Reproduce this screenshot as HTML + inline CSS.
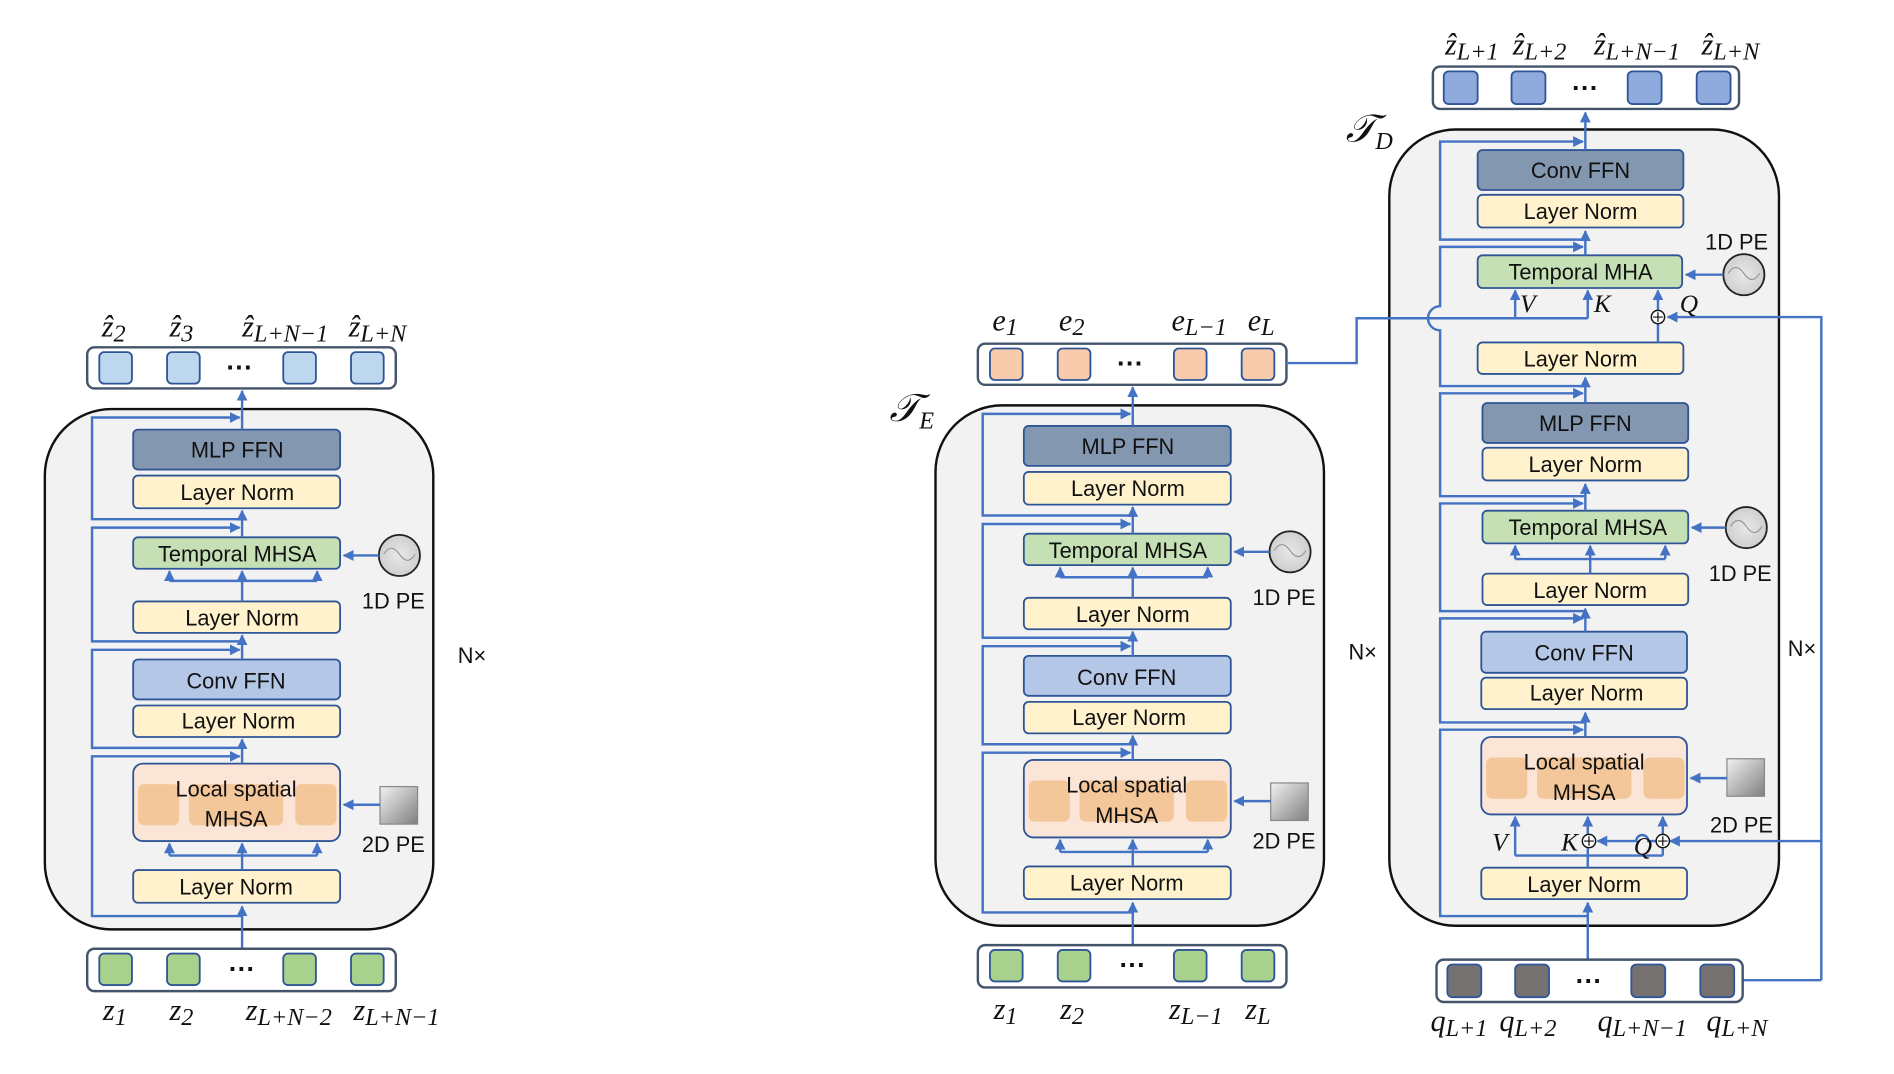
<!DOCTYPE html>
<html><head><meta charset="utf-8"><style>
html,body{margin:0;padding:0;background:#fff;}
svg{display:block}
.t{font-family:"Liberation Sans",sans-serif;font-size:18px;fill:#111;text-anchor:middle}
.m{font-family:"Liberation Serif",serif;font-style:italic;font-size:25px;fill:#111}
.s{font-size:20px}
.b{fill:none;stroke:#4472c4;stroke-width:2}
</style></head><body>
<svg width="1894" height="1074" viewBox="0 0 1565 887.5" xmlns="http://www.w3.org/2000/svg">
<defs>
<marker id="a" viewBox="0 0 10 10" refX="9" refY="5" markerWidth="4.5" markerHeight="4.5" orient="auto"><path d="M0,0L10,5L0,10z" fill="#4472c4"/></marker>
<linearGradient id="g" x1="0" y1="0" x2="1" y2="1"><stop offset="0" stop-color="#f2f2f2"/><stop offset="1" stop-color="#7f7f7f"/></linearGradient>
<radialGradient id="c"><stop offset="0" stop-color="#e8e8e8"/><stop offset="1" stop-color="#cfcfcf"/></radialGradient>
<g id="enc">
<rect x="37" y="338" width="321" height="430" rx="55" fill="#f2f2f2" stroke="#111" stroke-width="2"/>
<rect x="110" y="355" width="171" height="33" rx="4" fill="#8497b0" stroke="#2f5597" stroke-width="1.5"/>
<text class="t" x="196" y="378">MLP FFN</text>
<rect x="110" y="393" width="171" height="27" rx="4" fill="#fff2cc" stroke="#2f5597" stroke-width="1.5"/>
<text class="t" x="196" y="413">Layer Norm</text>
<rect x="110" y="444" width="171" height="26" rx="4" fill="#c5e0b4" stroke="#2f5597" stroke-width="1.5"/>
<text class="t" x="196" y="464">Temporal MHSA</text>
<rect x="110" y="497" width="171" height="26" rx="4" fill="#fff2cc" stroke="#2f5597" stroke-width="1.5"/>
<text class="t" x="200" y="517">Layer Norm</text>
<rect x="110" y="545" width="171" height="33" rx="4" fill="#b4c7e7" stroke="#2f5597" stroke-width="1.5"/>
<text class="t" x="195" y="569">Conv FFN</text>
<rect x="110" y="583" width="171" height="26" rx="4" fill="#fff2cc" stroke="#2f5597" stroke-width="1.5"/>
<text class="t" x="197" y="602">Layer Norm</text>
<rect x="110" y="631" width="171" height="64" rx="8" fill="#fbe5d6" stroke="#2f5597" stroke-width="1.5"/>
<rect x="114" y="648" width="34" height="34" rx="5" fill="#f4c79a"/>
<rect x="156" y="648" width="78" height="34" rx="5" fill="#f4c79a"/>
<rect x="244" y="648" width="34" height="34" rx="5" fill="#f4c79a"/>
<text class="t" x="195" y="658">Local spatial</text>
<text class="t" x="195" y="683">MHSA</text>
<rect x="110" y="719" width="171" height="27" rx="4" fill="#fff2cc" stroke="#2f5597" stroke-width="1.5"/>
<text class="t" x="195" y="739">Layer Norm</text>
<circle cx="330" cy="459" r="17" fill="url(#c)" stroke="#222" stroke-width="1.5"/>
<path d="M317,458 q6,-10 13,0 t13,0" fill="none" stroke="#999" stroke-width="1"/>
<text class="t" x="325" y="503">1D PE</text>
<rect x="314" y="650" width="31" height="31" fill="url(#g)" stroke="#888"/>
<text class="t" x="325" y="704">2D PE</text>
<path class="b" d="M313,459H284" marker-end="url(#a)"/>
<path class="b" d="M314,665H284" marker-end="url(#a)"/>
<path class="b" d="M200,784V749" marker-end="url(#a)"/>
<path class="b" d="M200,719V707M140,707H262"/>
<path class="b" d="M140,707V697" marker-end="url(#a)"/>
<path class="b" d="M200,707V697" marker-end="url(#a)"/>
<path class="b" d="M262,707V697" marker-end="url(#a)"/>
<path class="b" d="M200,631V611" marker-end="url(#a)"/>
<path class="b" d="M200,545V525" marker-end="url(#a)"/>
<path class="b" d="M200,497V480M140,480H262"/>
<path class="b" d="M140,480V472" marker-end="url(#a)"/>
<path class="b" d="M200,480V472" marker-end="url(#a)"/>
<path class="b" d="M262,480V472" marker-end="url(#a)"/>
<path class="b" d="M200,444V422" marker-end="url(#a)"/>
<path class="b" d="M200,355V323" marker-end="url(#a)"/>
<path class="b" d="M200,757H76V625H198" marker-end="url(#a)"/>
<path class="b" d="M200,618H76V537H198" marker-end="url(#a)"/>
<path class="b" d="M200,530H76V436H198" marker-end="url(#a)"/>
<path class="b" d="M200,429H76V345H198" marker-end="url(#a)"/>
<text class="t" x="390" y="548">N×</text>
<rect x="72" y="784" width="255" height="35" rx="6" fill="#fff" stroke="#44546a" stroke-width="2"/>
<g fill="#a9d18e" stroke="#2f5597" stroke-width="1.5">
<rect x="82" y="788" width="27" height="26" rx="4"/><rect x="138" y="788" width="27" height="26" rx="4"/><rect x="234" y="788" width="27" height="26" rx="4"/><rect x="290" y="788" width="27" height="26" rx="4"/></g>
<text x="200" y="808" class="t" style="font-size:22px;font-weight:bold">···</text>
<rect x="72" y="287" width="255" height="34" rx="6" fill="#fff" stroke="#44546a" stroke-width="2"/>
</g>
</defs>

<use href="#enc"/>
<g fill="#bdd7ee" stroke="#2f5597" stroke-width="1.5">
<rect x="82" y="291" width="27" height="26" rx="4"/><rect x="138" y="291" width="27" height="26" rx="4"/><rect x="234" y="291" width="27" height="26" rx="4"/><rect x="290" y="291" width="27" height="26" rx="4"/></g>
<text x="198" y="311" class="t" style="font-size:22px;font-weight:bold">···</text>
<text class="m" x="84" y="278">ẑ<tspan class="s" dy="4">2</tspan></text>
<text class="m" x="140" y="278">ẑ<tspan class="s" dy="4">3</tspan></text>
<text class="m" x="200" y="278">ẑ<tspan class="s" dy="4">L+N−1</tspan></text>
<text class="m" x="288" y="278">ẑ<tspan class="s" dy="4">L+N</tspan></text>
<text class="m" x="85" y="843">z<tspan class="s" dy="4">1</tspan></text>
<text class="m" x="140" y="843">z<tspan class="s" dy="4">2</tspan></text>
<text class="m" x="203" y="843">z<tspan class="s" dy="4">L+N−2</tspan></text>
<text class="m" x="292" y="843">z<tspan class="s" dy="4">L+N−1</tspan></text>

<g transform="translate(736,-3)">
<use href="#enc"/>
<g fill="#f8cbad" stroke="#2f5597" stroke-width="1.5">
<rect x="82" y="291" width="27" height="26" rx="4"/><rect x="138" y="291" width="27" height="26" rx="4"/><rect x="234" y="291" width="27" height="26" rx="4"/><rect x="290" y="291" width="27" height="26" rx="4"/></g>
<text x="198" y="311" class="t" style="font-size:22px;font-weight:bold">···</text>
<text class="m" x="84" y="276">e<tspan class="s" dy="4">1</tspan></text>
<text class="m" x="139" y="276">e<tspan class="s" dy="4">2</tspan></text>
<text class="m" x="232" y="276">e<tspan class="s" dy="4">L−1</tspan></text>
<text class="m" x="295" y="276">e<tspan class="s" dy="4">L</tspan></text>
<text class="m" x="85" y="845">z<tspan class="s" dy="4">1</tspan></text>
<text class="m" x="140" y="845">z<tspan class="s" dy="4">2</tspan></text>
<text class="m" x="230" y="845">z<tspan class="s" dy="4">L−1</tspan></text>
<text class="m" x="293" y="845">z<tspan class="s" dy="4">L</tspan></text>
</g>
<text class="m" x="735" y="348" style="font-size:32px">𝒯<tspan class="s" dy="6" style="font-size:20px">E</tspan></text>

<rect x="1148" y="107" width="322" height="658" rx="55" fill="#f2f2f2" stroke="#111" stroke-width="2"/>
<text class="m" x="1112" y="117" style="font-size:32px">𝒯<tspan class="s" dy="6" style="font-size:20px">D</tspan></text>
<rect x="1184" y="55" width="253" height="35" rx="6" fill="#fff" stroke="#44546a" stroke-width="2"/>
<g fill="#8faadc" stroke="#2f5597" stroke-width="1.5">
<rect x="1193" y="59" width="28" height="27" rx="4"/><rect x="1249" y="59" width="28" height="27" rx="4"/><rect x="1345" y="59" width="28" height="27" rx="4"/><rect x="1402" y="59" width="28" height="27" rx="4"/></g>
<text x="1310" y="80" class="t" style="font-size:22px;font-weight:bold">···</text>
<text class="m" x="1194" y="45">ẑ<tspan class="s" dy="4">L+1</tspan></text>
<text class="m" x="1250" y="45">ẑ<tspan class="s" dy="4">L+2</tspan></text>
<text class="m" x="1317" y="45">ẑ<tspan class="s" dy="4">L+N−1</tspan></text>
<text class="m" x="1406" y="45">ẑ<tspan class="s" dy="4">L+N</tspan></text>

<rect x="1221" y="124" width="170" height="33" rx="4" fill="#8497b0" stroke="#2f5597" stroke-width="1.5"/>
<text class="t" x="1306" y="147">Conv FFN</text>
<rect x="1221" y="161" width="170" height="27" rx="4" fill="#fff2cc" stroke="#2f5597" stroke-width="1.5"/>
<text class="t" x="1306" y="181">Layer Norm</text>
<rect x="1221" y="211" width="169" height="27" rx="4" fill="#c5e0b4" stroke="#2f5597" stroke-width="1.5"/>
<text class="t" x="1306" y="231">Temporal MHA</text>
<rect x="1221" y="283" width="170" height="26" rx="4" fill="#fff2cc" stroke="#2f5597" stroke-width="1.5"/>
<text class="t" x="1306" y="303">Layer Norm</text>
<rect x="1225" y="333" width="170" height="33" rx="4" fill="#8497b0" stroke="#2f5597" stroke-width="1.5"/>
<text class="t" x="1310" y="356">MLP FFN</text>
<rect x="1225" y="370" width="170" height="27" rx="4" fill="#fff2cc" stroke="#2f5597" stroke-width="1.5"/>
<text class="t" x="1310" y="390">Layer Norm</text>
<rect x="1225" y="422" width="170" height="27" rx="4" fill="#c5e0b4" stroke="#2f5597" stroke-width="1.5"/>
<text class="t" x="1312" y="442">Temporal MHSA</text>
<rect x="1225" y="474" width="170" height="26" rx="4" fill="#fff2cc" stroke="#2f5597" stroke-width="1.5"/>
<text class="t" x="1314" y="494">Layer Norm</text>
<rect x="1224" y="522" width="170" height="34" rx="4" fill="#b4c7e7" stroke="#2f5597" stroke-width="1.5"/>
<text class="t" x="1309" y="546">Conv FFN</text>
<rect x="1224" y="560" width="170" height="26" rx="4" fill="#fff2cc" stroke="#2f5597" stroke-width="1.5"/>
<text class="t" x="1311" y="579">Layer Norm</text>
<rect x="1224" y="609" width="170" height="64" rx="8" fill="#fbe5d6" stroke="#2f5597" stroke-width="1.5"/>
<rect x="1228" y="626" width="34" height="34" rx="5" fill="#f4c79a"/>
<rect x="1270" y="626" width="78" height="34" rx="5" fill="#f4c79a"/>
<rect x="1358" y="626" width="34" height="34" rx="5" fill="#f4c79a"/>
<text class="t" x="1309" y="636">Local spatial</text>
<text class="t" x="1309" y="661">MHSA</text>
<rect x="1224" y="717" width="170" height="26" rx="4" fill="#fff2cc" stroke="#2f5597" stroke-width="1.5"/>
<text class="t" x="1309" y="737">Layer Norm</text>

<circle cx="1441" cy="227" r="17" fill="url(#c)" stroke="#222" stroke-width="1.5"/>
<path d="M1428,226 q6,-10 13,0 t13,0" fill="none" stroke="#999" stroke-width="1"/>
<text class="t" x="1435" y="206">1D PE</text>
<circle cx="1443" cy="436" r="17" fill="url(#c)" stroke="#222" stroke-width="1.5"/>
<path d="M1430,435 q6,-10 13,0 t13,0" fill="none" stroke="#999" stroke-width="1"/>
<text class="t" x="1438" y="480">1D PE</text>
<rect x="1427" y="627" width="31" height="31" fill="url(#g)" stroke="#888"/>
<text class="t" x="1439" y="688">2D PE</text>
<text class="t" x="1489" y="542">N×</text>

<path class="b" d="M1424,227H1393" marker-end="url(#a)"/>
<path class="b" d="M1426,436H1398" marker-end="url(#a)"/>
<path class="b" d="M1427,643H1397" marker-end="url(#a)"/>

<path class="b" d="M1312,793V746" marker-end="url(#a)"/>
<path class="b" d="M1312,717V707M1252,707H1374"/>
<path class="b" d="M1252,707V675" marker-end="url(#a)"/>
<path class="b" d="M1312,707V701M1312,689V675" marker-end="url(#a)"/>
<path class="b" d="M1374,707V701M1374,689V675" marker-end="url(#a)"/>
<path class="b" d="M1505,695H1380" marker-end="url(#a)"/>
<path class="b" d="M1368,695H1362a5,5 0 0 0 -10,0H1320" marker-end="url(#a)"/>
<circle cx="1374" cy="695" r="5.5" fill="#fff" stroke="#111" stroke-width="1.2"/><path d="M1370,695h8M1374,691v8" stroke="#111" stroke-width="1"/>
<circle cx="1313" cy="695" r="5.5" fill="#fff" stroke="#111" stroke-width="1.2"/><path d="M1309,695h8M1313,691v8" stroke="#111" stroke-width="1"/>
<text class="m" x="1233" y="703" style="font-size:21px">V</text>
<text class="m" x="1290" y="703" style="font-size:21px">K</text>
<text class="m" x="1350" y="706" style="font-size:21px">Q</text>
<path class="b" d="M1310,609V589" marker-end="url(#a)"/>
<path class="b" d="M1310,522V503" marker-end="url(#a)"/>
<path class="b" d="M1314,474V462M1252,462H1376"/>
<path class="b" d="M1252,462V451" marker-end="url(#a)"/>
<path class="b" d="M1314,462V451" marker-end="url(#a)"/>
<path class="b" d="M1376,462V451" marker-end="url(#a)"/>
<path class="b" d="M1310,422V400" marker-end="url(#a)"/>
<path class="b" d="M1310,333V312" marker-end="url(#a)"/>
<path class="b" d="M1370,283V268M1370,256V240" marker-end="url(#a)"/>
<circle cx="1370" cy="262" r="5.5" fill="#fff" stroke="#111" stroke-width="1.2"/><path d="M1366,262h8M1370,258v8" stroke="#111" stroke-width="1"/>
<path class="b" d="M1505,810V262H1378" marker-end="url(#a)"/>
<path class="b" d="M1440,810H1505"/>
<path class="b" d="M1062,300H1121V263H1312"/>
<path class="b" d="M1252,263V240" marker-end="url(#a)"/>
<path class="b" d="M1312,263V240" marker-end="url(#a)"/>
<text class="m" x="1256" y="258" style="font-size:21px">V</text>
<text class="m" x="1317" y="258" style="font-size:21px">K</text>
<text class="m" x="1388" y="258" style="font-size:21px">Q</text>
<path class="b" d="M1310,211V191" marker-end="url(#a)"/>
<path class="b" d="M1310,124V93" marker-end="url(#a)"/>
<path class="b" d="M1310,198H1190V117H1308" marker-end="url(#a)"/>
<path class="b" d="M1310,319H1190V273a10,10 0 0 1 0,-20V204H1308" marker-end="url(#a)"/>
<path class="b" d="M1310,410H1190V325H1308" marker-end="url(#a)"/>
<path class="b" d="M1310,505H1190V416H1308" marker-end="url(#a)"/>
<path class="b" d="M1310,597H1190V511H1308" marker-end="url(#a)"/>
<path class="b" d="M1312,757H1190V603H1308" marker-end="url(#a)"/>

<rect x="1187" y="793" width="253" height="35" rx="6" fill="#fff" stroke="#44546a" stroke-width="2"/>
<g fill="#767171" stroke="#2f5597" stroke-width="1.5">
<rect x="1196" y="797" width="28" height="27" rx="4"/><rect x="1252" y="797" width="28" height="27" rx="4"/><rect x="1348" y="797" width="28" height="27" rx="4"/><rect x="1405" y="797" width="28" height="27" rx="4"/></g>
<text x="1313" y="818" class="t" style="font-size:22px;font-weight:bold">···</text>
<text class="m" x="1182" y="852">q<tspan class="s" dy="4">L+1</tspan></text>
<text class="m" x="1239" y="852">q<tspan class="s" dy="4">L+2</tspan></text>
<text class="m" x="1320" y="852">q<tspan class="s" dy="4">L+N−1</tspan></text>
<text class="m" x="1410" y="852">q<tspan class="s" dy="4">L+N</tspan></text>
</svg>
</body></html>
